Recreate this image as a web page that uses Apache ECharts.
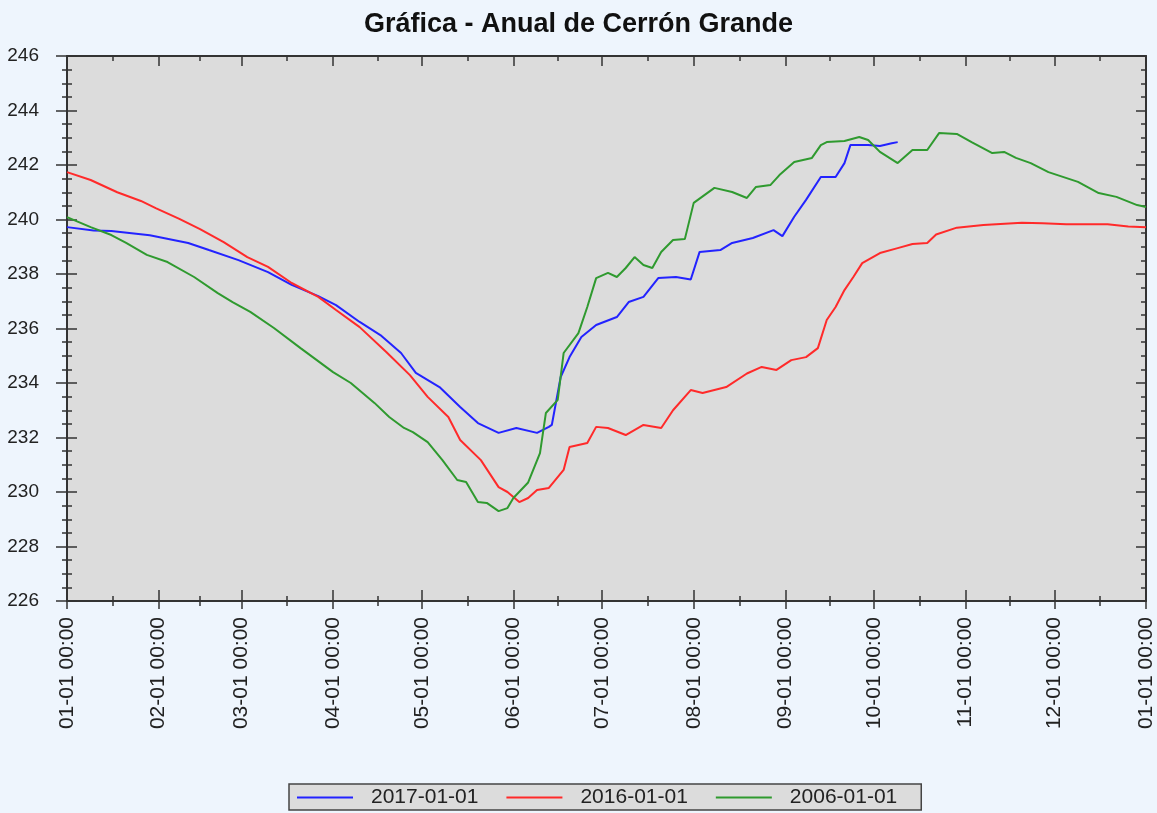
<!DOCTYPE html>
<html>
<head>
<meta charset="utf-8">
<script src="https://cdn.jsdelivr.net/npm/echarts@6/dist/echarts.min.js"></script>
<style>
html,body{margin:0;padding:0;background:#eef5fd;}
#main{width:1157px;height:813px;}
</style>
</head>
<body>
<div id="main"></div>
<script>
// todas las series se dibujan sobre un año de referencia (2017)
var fechas2017 = ['2017-01-01','2017-01-10','2017-01-16','2017-01-29','2017-02-11','2017-02-18','2017-02-28','2017-03-10','2017-03-18','2017-03-27','2017-04-02','2017-04-10','2017-04-17','2017-04-24','2017-04-29','2017-05-07','2017-05-14','2017-05-20','2017-05-27','2017-06-02','2017-06-09','2017-06-13','2017-06-14','2017-06-17','2017-06-20','2017-06-24','2017-06-29','2017-07-06','2017-07-10','2017-07-15','2017-07-20','2017-07-26','2017-07-31','2017-08-03','2017-08-10','2017-08-14','2017-08-21','2017-08-28','2017-08-31','2017-09-04','2017-09-08','2017-09-13','2017-09-18','2017-09-21','2017-09-23','2017-09-29','2017-10-03','2017-10-07','2017-10-09']
var nivel2017 = [239.72,239.6,239.58,239.42,239.14,238.88,238.51,238.07,237.6,237.19,236.86,236.24,235.76,235.1,234.37,233.85,233.12,232.53,232.17,232.35,232.17,232.39,232.46,234.22,234.95,235.69,236.13,236.42,236.97,237.16,237.85,237.89,237.8,238.81,238.88,239.14,239.32,239.61,239.39,240.1,240.72,241.56,241.56,242.07,242.73,242.73,242.7,242.8,242.84]

var fechas2016 = ['2017-01-01','2017-01-09','2017-01-18','2017-01-26','2017-01-31','2017-02-08','2017-02-15','2017-02-23','2017-03-03','2017-03-10','2017-03-18','2017-03-27','2017-04-02','2017-04-10','2017-04-19','2017-04-27','2017-05-03','2017-05-10','2017-05-14','2017-05-21','2017-05-27','2017-05-30','2017-06-03','2017-06-06','2017-06-09','2017-06-13','2017-06-18','2017-06-20','2017-06-26','2017-06-29','2017-07-03','2017-07-09','2017-07-15','2017-07-21','2017-07-25','2017-07-31','2017-08-04','2017-08-12','2017-08-19','2017-08-24','2017-08-29','2017-09-03','2017-09-08','2017-09-12','2017-09-15','2017-09-18','2017-09-21','2017-09-24','2017-09-27','2017-10-03','2017-10-09','2017-10-14','2017-10-19','2017-10-22','2017-10-29','2017-11-07','2017-11-20','2017-11-27','2017-12-05','2017-12-19','2017-12-26','2018-01-01']
var nivel2016 = [241.74,241.45,241.0,240.68,240.42,240.02,239.65,239.17,238.62,238.26,237.67,237.16,236.68,236.05,235.14,234.29,233.49,232.75,231.91,231.17,230.18,230.0,229.63,229.78,230.07,230.15,230.81,231.65,231.8,232.39,232.35,232.09,232.46,232.35,233.0,233.74,233.63,233.85,234.35,234.59,234.48,234.84,234.95,235.28,236.31,236.79,237.41,237.89,238.4,238.77,238.95,239.1,239.14,239.45,239.7,239.8,239.88,239.86,239.83,239.83,239.74,239.72]

var fechas2006 = ['2017-01-01','2017-01-09','2017-01-16','2017-01-21','2017-01-28','2017-02-04','2017-02-13','2017-02-21','2017-02-26','2017-03-04','2017-03-12','2017-03-21','2017-04-01','2017-04-07','2017-04-15','2017-04-20','2017-04-25','2017-04-28','2017-05-03','2017-05-08','2017-05-13','2017-05-16','2017-05-20','2017-05-23','2017-05-27','2017-05-30','2017-06-01','2017-06-06','2017-06-10','2017-06-12','2017-06-16','2017-06-18','2017-06-23','2017-06-26','2017-06-29','2017-07-03','2017-07-06','2017-07-09','2017-07-12','2017-07-15','2017-07-18','2017-07-21','2017-07-25','2017-07-29','2017-08-01','2017-08-08','2017-08-14','2017-08-19','2017-08-22','2017-08-27','2017-08-30','2017-09-04','2017-09-10','2017-09-13','2017-09-15','2017-09-21','2017-09-26','2017-09-29','2017-10-03','2017-10-09','2017-10-14','2017-10-19','2017-10-23','2017-10-29','2017-11-03','2017-11-10','2017-11-14','2017-11-18','2017-11-23','2017-11-29','2017-12-09','2017-12-16','2017-12-22','2017-12-29','2018-01-01']
var nivel2006 = [240.09,239.72,239.43,239.14,238.7,238.44,237.89,237.3,236.97,236.61,236.02,235.28,234.4,234.0,233.27,232.75,232.35,232.2,231.83,231.17,230.44,230.37,229.63,229.6,229.3,229.41,229.78,230.35,231.43,232.9,233.38,235.1,235.83,236.79,237.85,238.04,237.89,238.22,238.62,238.33,238.22,238.81,239.25,239.28,240.61,241.16,241.01,240.79,241.19,241.27,241.63,242.11,242.26,242.73,242.84,242.88,243.03,242.92,242.48,242.07,242.55,242.55,243.17,243.14,242.84,242.44,242.48,242.26,242.07,241.74,241.38,240.97,240.83,240.53,240.46]

var nombres = ['2017-01-01','2016-01-01','2006-01-01']
var colores = ['#2323ff','#ff2a2a','#2f9a2f']

function juntar(f, v){
    var arr = []
    for(var i = 0; i < f.length; i++){
        arr.push([f[i], v[i]])
    }
    return arr
}

function pad(n){ return n < 10 ? '0' + n : '' + n }

var char1 = echarts.init(document.getElementById('main'))

var ejeX = {
    type: 'time',
    min: '2017-01-01',
    max: '2018-01-01',
    splitNumber: 12,
    splitLine: { show: false }
}
var ejeY = {
    type: 'value',
    min: 226,
    max: 246,
    interval: 2,
    splitLine: { show: false }
}
var linea = { show: true, lineStyle: { color: '#333', width: 2 } }

var option1 = {
    animation: false,
    backgroundColor: '#eef5fd',
    title: {
        text: 'Gráfica - Anual de Cerrón Grande',
        left: 'center',
        top: 6,
        textStyle: { fontFamily: 'Liberation Sans', fontSize: 27, fontWeight: 'bold', color: '#111' }
    },
    legend: {
        data: nombres,
        left: 289,
        top: 784,
        orient: 'horizontal',
        backgroundColor: '#dcdcdc',
        borderColor: '#444',
        borderWidth: 1.5,
        borderRadius: 0,
        padding: [3, 24, 2, 8],
        icon: 'rect',
        itemWidth: 56,
        itemHeight: 2,
        itemGap: 28,
        textStyle: { fontFamily: 'Liberation Sans', fontSize: 21, color: '#222', padding: [0, 0, 0, 13] }
    },
    grid: {
        left: 67,
        right: 11,
        top: 56,
        bottom: 212,
        containLabel: false,
        outerBoundsMode: 'none',
        show: true,
        backgroundColor: '#dcdcdc',
        borderWidth: 0
    },
    xAxis: [
        Object.assign({}, ejeX, {
            position: 'bottom',
            axisLine: linea,
            axisTick: { show: true, inside: false, length: 8, lineStyle: { color: '#333', width: 1.5 } },
            minorTick: { show: true, splitNumber: 2, length: 5, lineStyle: { color: '#333', width: 1.5 } },
            axisLabel: {
                rotate: 90,
                margin: 16,
                fontFamily: 'Liberation Sans',
                fontSize: 21,
                color: '#222',
                showMinLabel: true,
                showMaxLabel: true,
                formatter: function (v) {
                    var d = new Date(v)
                    return pad(d.getMonth() + 1) + '-' + pad(d.getDate()) + ' ' + pad(d.getHours()) + ':' + pad(d.getMinutes())
                }
            }
        }),
        Object.assign({}, ejeX, {
            position: 'bottom',
            axisLine: { show: false },
            axisTick: { show: true, inside: true, length: 11, lineStyle: { color: '#333', width: 1.5 } },
            minorTick: { show: true, splitNumber: 2, length: 5, lineStyle: { color: '#333', width: 1.5 } },
            axisLabel: { show: false }
        }),
        Object.assign({}, ejeX, {
            position: 'top',
            axisLine: linea,
            axisTick: { show: true, inside: true, length: 10, lineStyle: { color: '#333', width: 1.5 } },
            minorTick: { show: true, splitNumber: 2, length: 5, lineStyle: { color: '#333', width: 1.5 } },
            axisLabel: { show: false }
        })
    ],
    yAxis: [
        Object.assign({}, ejeY, {
            position: 'left',
            axisLine: linea,
            axisTick: { show: true, inside: false, length: 11, lineStyle: { color: '#333', width: 1.5 } },
            minorTick: { show: true, splitNumber: 4, length: 5, lineStyle: { color: '#333', width: 1.5 } },
            axisLabel: { margin: 28, fontFamily: 'Liberation Sans', fontSize: 19, color: '#222' }
        }),
        Object.assign({}, ejeY, {
            position: 'left',
            axisLine: { show: false },
            axisTick: { show: true, inside: true, length: 10, lineStyle: { color: '#333', width: 1.5 } },
            minorTick: { show: true, splitNumber: 4, length: 5, lineStyle: { color: '#333', width: 1.5 } },
            axisLabel: { show: false }
        }),
        Object.assign({}, ejeY, {
            position: 'right',
            axisLine: linea,
            axisTick: { show: true, inside: true, length: 10, lineStyle: { color: '#333', width: 1.5 } },
            minorTick: { show: true, splitNumber: 4, length: 5, lineStyle: { color: '#333', width: 1.5 } },
            axisLabel: { show: false }
        })
    ],
    series: [
        { name: nombres[0], type: 'line', symbol: 'none', color: colores[0], lineStyle: { width: 2 }, data: juntar(fechas2017, nivel2017) },
        { name: nombres[1], type: 'line', symbol: 'none', color: colores[1], lineStyle: { width: 2 }, data: juntar(fechas2016, nivel2016) },
        { name: nombres[2], type: 'line', symbol: 'none', color: colores[2], lineStyle: { width: 2 }, data: juntar(fechas2006, nivel2006) }
    ]
}
char1.setOption(option1)
</script>
</body>
</html>
